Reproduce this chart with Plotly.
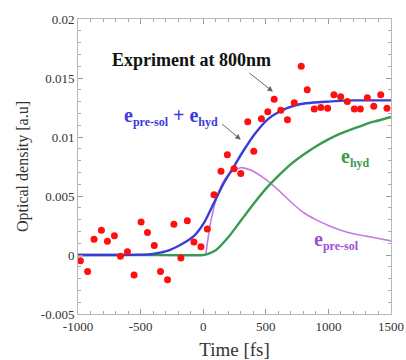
import plotly.graph_objects as go

# Experimental data (red dots)
exp_t = [-981, -923, -872, -813, -765, -709, -661, -605, -552, -496, -445, -391, -341, -285,
         -234, -178, -127, -74, -18, 33, 86, 142, 193, 246, 300, 356, 404, 465, 516, 567,
         620, 673, 727, 783, 831, 887, 940, 994, 1044, 1098, 1151, 1207, 1255, 1311, 1362,
         1418, 1468]
exp_od = [-0.00048, -0.0014, 0.00133, 0.0021, 0.00116, 0.00164, -0.0001, 0.00028, -0.0017,
          0.0028, 0.0019, 0.0008, -0.0014, -0.0021, 0.0026, -0.00025, 0.0029, 0.0011, 0.0007,
          0.0022, 0.0051, 0.0071, 0.0085, 0.0073, 0.0069, 0.0113, 0.0088, 0.01155, 0.01215,
          0.0132, 0.01226, 0.01147, 0.0129, 0.0160, 0.0140, 0.01237, 0.01249, 0.01243, 0.01359,
          0.01342, 0.0130, 0.01237, 0.01237, 0.01333, 0.0126, 0.01359, 0.01243]

# Fit: e_pre-sol + e_hyd (blue)
sum_t = [-1000, -700, -500, -400, -300, -180, -75, 5, 85, 165, 245, 325, 415, 515, 600, 675,
         780, 885, 1000, 1200, 1500]
sum_od = [0, 0, 0.00003, 0.0001, 0.0003, 0.00087, 0.0016, 0.0027, 0.0044, 0.0061, 0.0075,
          0.0089, 0.0103, 0.0115, 0.0121, 0.01246, 0.0128, 0.01293, 0.0130, 0.0131, 0.0131]

# e_hyd (green)
hyd_t = [-1000, -500, 0, 40, 100, 200, 300, 400, 500, 600, 700, 800, 900, 1000, 1100, 1200,
         1300, 1400, 1500]
hyd_od = [0, 0, 0, 0.0001, 0.0004, 0.0015, 0.0029, 0.0043, 0.0056, 0.0067, 0.0077, 0.0085,
          0.0092, 0.0098, 0.0103, 0.0107, 0.0111, 0.0114, 0.0117]

# e_pre-sol (purple)
pre_t = [20, 40, 60, 100, 150, 200, 250, 300, 350, 400, 500, 600, 700, 800, 900, 1000, 1100,
         1200, 1300, 1400, 1500]
pre_od = [0, 0.0015, 0.0028, 0.0046, 0.0060, 0.0068, 0.0072, 0.0074, 0.0073, 0.0071, 0.0064,
          0.0055, 0.0045, 0.0036, 0.0030, 0.0025, 0.0021, 0.0018, 0.0016, 0.0014, 0.0012]

x_ticks = [-1000, -500, 0, 500, 1000, 1500]
x_labels = ["-1000", "-500", "0", "500", "1000", "1500"]
y_ticks = [-0.005, 0, 0.005, 0.01, 0.015, 0.02]
y_labels = ["-0.005", "0", "0.005", "0.01", "0.015", "0.02"]

SERIF = "Liberation Serif"
BLUE = "#3b3bd8"
GREEN = "#3a9a4c"
PURPLE = "#c57ae6"

fig = go.Figure()
fig.add_trace(go.Scatter(x=pre_t, y=pre_od, mode="lines",
                         line=dict(color=PURPLE, width=1.6, shape="spline", smoothing=0.7)))
fig.add_trace(go.Scatter(x=hyd_t, y=hyd_od, mode="lines",
                         line=dict(color=GREEN, width=2.4, shape="spline", smoothing=0.7)))
fig.add_trace(go.Scatter(x=sum_t, y=sum_od, mode="lines",
                         line=dict(color=BLUE, width=2.4, shape="spline", smoothing=0.7)))
fig.add_trace(go.Scatter(x=exp_t, y=exp_od, mode="markers",
                         marker=dict(color="#ff1010", size=7, line=dict(width=0))))

SUB = "<sub><span style='font-size:12px'>{}</span></sub>"
ann = [
    dict(x=-745, y=0.01655, text="<b>Expriment at 800nm</b>", showarrow=False,
         font=dict(size=18, color="#111", family=SERIF), xanchor="left"),
    dict(x=-650, y=0.0117, text="<b>e" + SUB.format("pre-sol") + " + e" + SUB.format("hyd") + "</b>",
         showarrow=False, font=dict(size=20, color=BLUE, family=SERIF), xanchor="left"),
    dict(x=1083, y=0.0083, text="<b>e" + SUB.format("hyd") + "</b>", showarrow=False,
         font=dict(size=20, color=GREEN, family=SERIF), xanchor="left"),
    dict(x=866, y=0.0012, text="<b>e" + SUB.format("pre-sol") + "</b>", showarrow=False,
         font=dict(size=20, color="#9b4fd6", family=SERIF), xanchor="left"),
]
for a in ann:
    fig.add_annotation(**a, xref="x", yref="y")

# arrows
fig.add_annotation(x=557, y=0.01384, ax=357, ay=0.01553, xref="x", yref="y", axref="x", ayref="y",
                   showarrow=True, arrowhead=2, arrowsize=1.1, arrowwidth=1, arrowcolor="#666",
                   text="")
fig.add_annotation(x=300, y=0.00977, ax=140, ay=0.0112, xref="x", yref="y", axref="x", ayref="y",
                   showarrow=True, arrowhead=2, arrowsize=1.1, arrowwidth=1, arrowcolor="#666",
                   text="")

axis_common = dict(showgrid=False, zeroline=False, showline=True, linecolor="#b8b8b8",
                   linewidth=1, mirror="ticks", ticks="inside", ticklen=5, tickcolor="#999",
                   automargin=False, ticklabeloverflow="allow",
                   tickfont=dict(family=SERIF, size=13, color="#333"))

fig.update_layout(
    width=406, height=360,
    margin=dict(l=78, r=15, t=19, b=46),
    paper_bgcolor="white", plot_bgcolor="white",
    showlegend=False,
    xaxis=dict(range=[-1000, 1500], tickvals=x_ticks, ticktext=x_labels,
               minor=dict(dtick=100, ticks="inside", ticklen=3, tickcolor="#aaa"),
               title=dict(text="Time [fs]", font=dict(family=SERIF, size=19, color="#333"),
                          standoff=10),
               **axis_common),
    yaxis=dict(range=[-0.005, 0.02], tickvals=y_ticks, ticktext=y_labels,
               minor=dict(dtick=0.001, ticks="inside", ticklen=3, tickcolor="#aaa"),
               title=dict(text="Optical density [a.u]", font=dict(family=SERIF, size=16, color="#333"),
                          standoff=8),
               **axis_common),
)

# remove the default page margin so the figure sits at the window's top-left corner
fig.write_html("out.html", config={"displayModeBar": False},
               post_script="document.body.style.margin='0';")
